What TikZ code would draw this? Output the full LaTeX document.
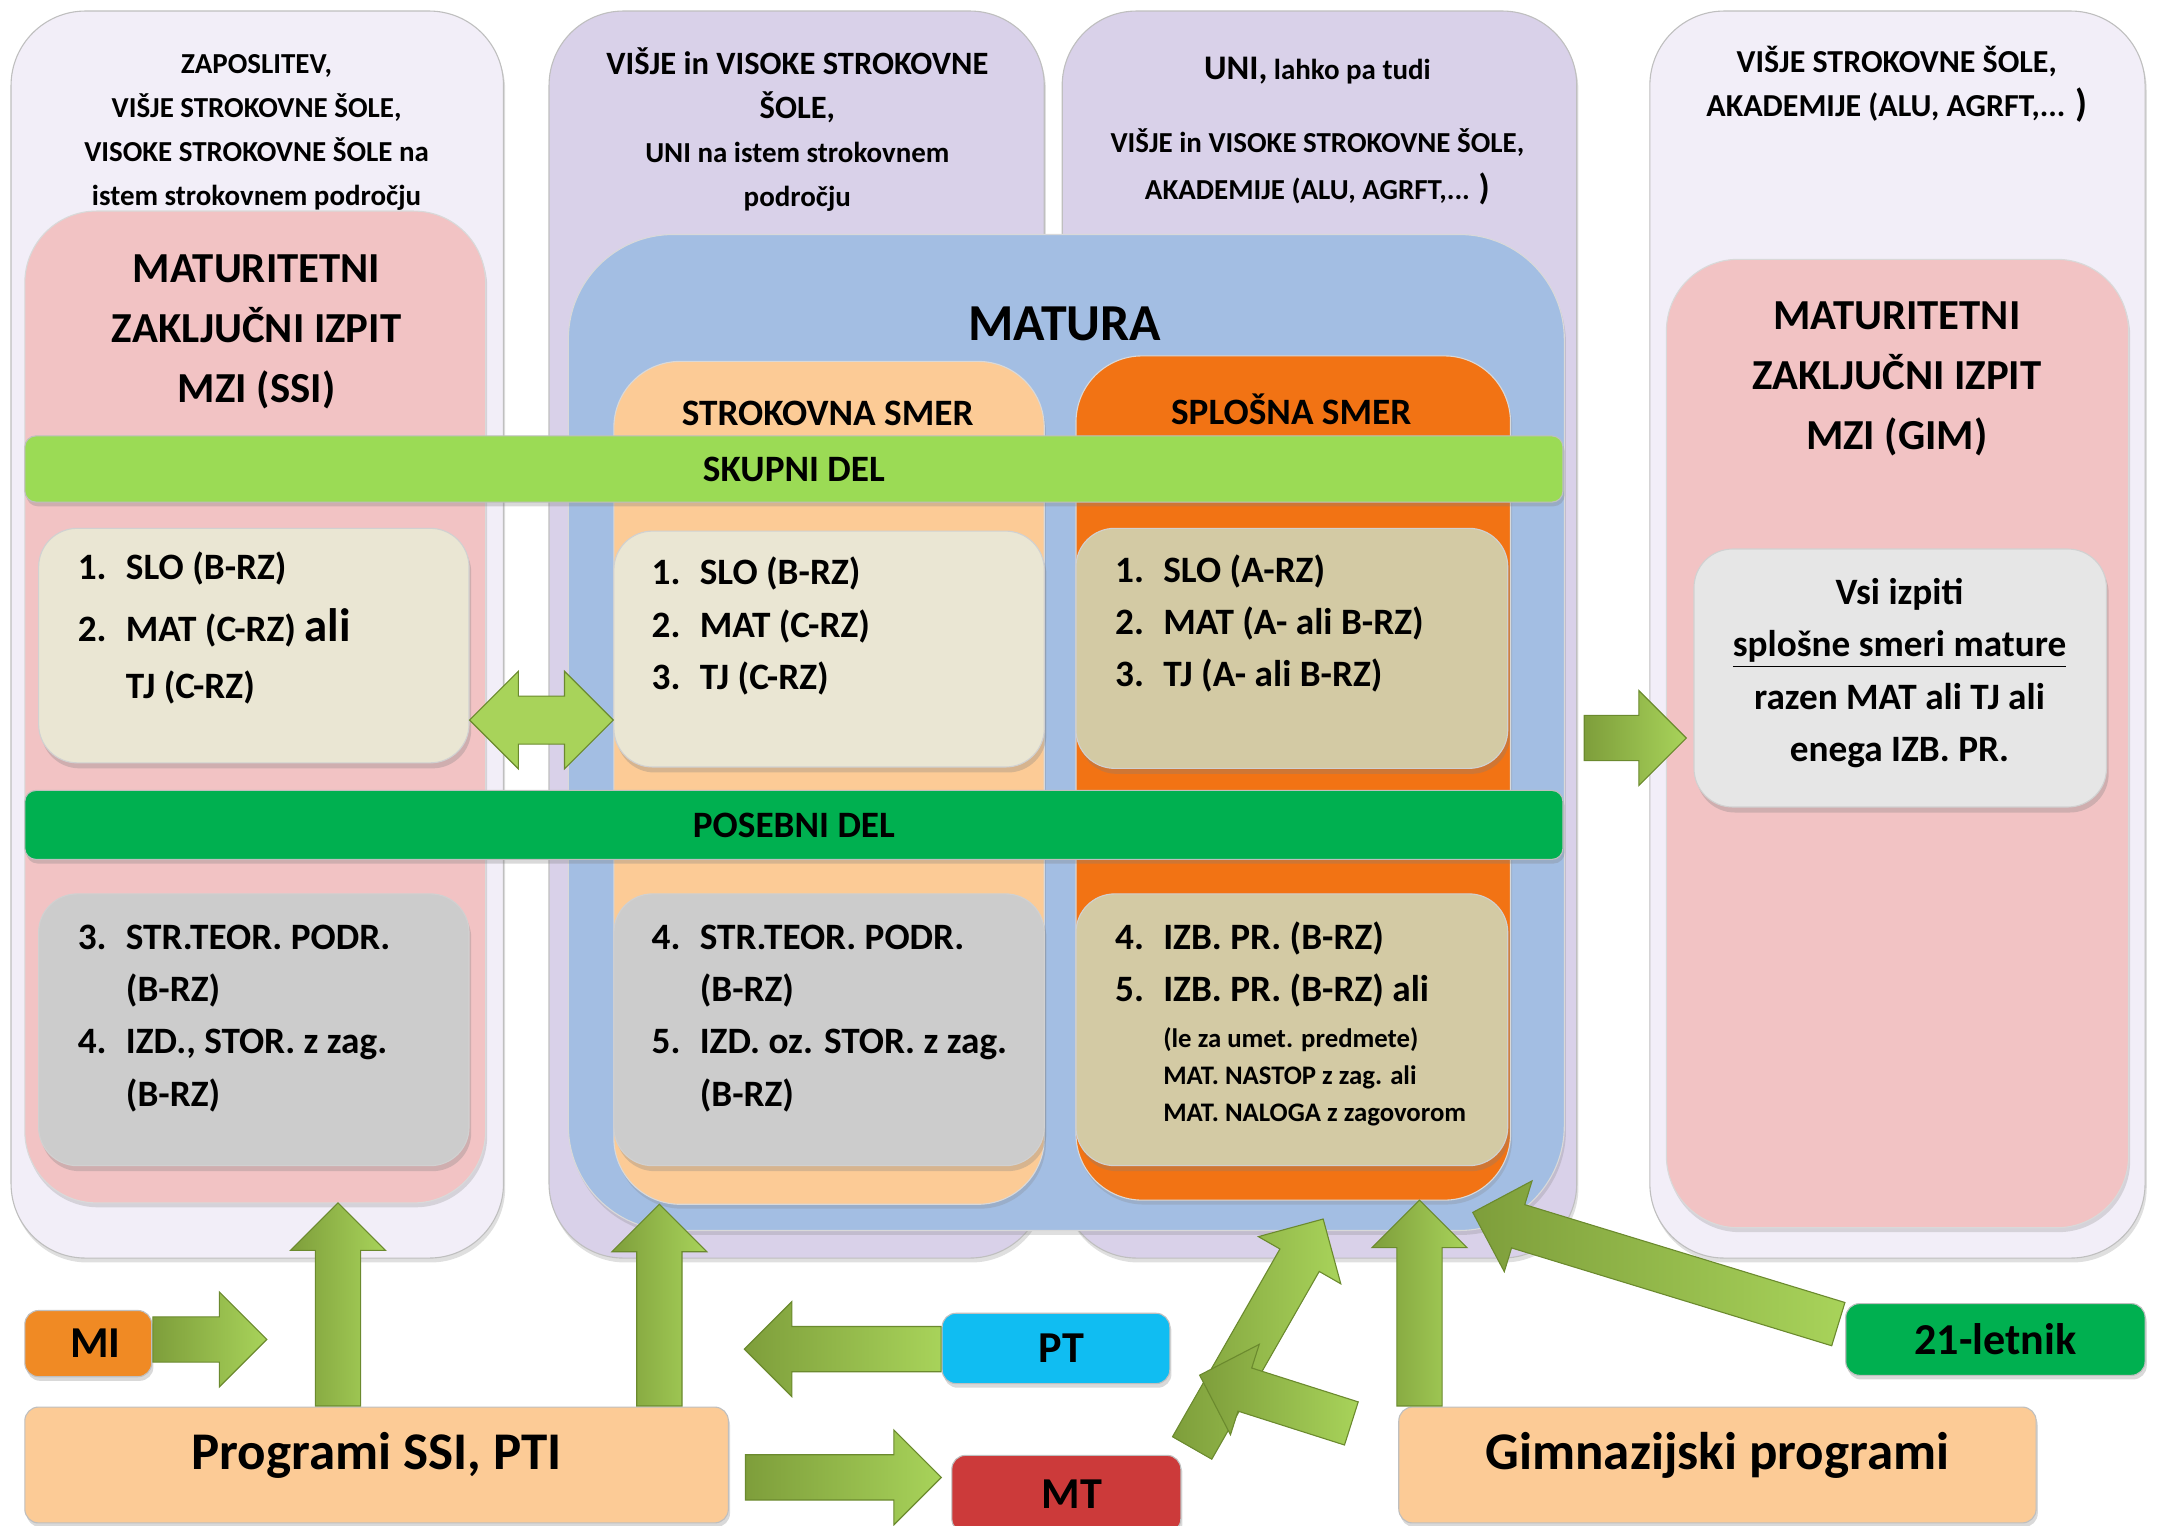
\documentclass[tikz,border=0pt]{standalone}
\usepackage{fontspec}
\setmainfont{Carlito}
\usepackage{xcolor}
\usepackage{tikz}
\usetikzlibrary{shapes}
\usetikzlibrary{arrows.meta}
\usetikzlibrary{shadows}
\usetikzlibrary{calc}
\definecolor{svetlastolp}{HTML}{F2EEF8}
\definecolor{temnastolp}{HTML}{D9D1E9}
\definecolor{roza}{HTML}{F2C3C4}
\definecolor{modra}{HTML}{A3BEE3}
\definecolor{breskev}{HTML}{FCCB96}
\definecolor{oranzna}{HTML}{F27314}
\definecolor{krem}{HTML}{EAE6D3}
\definecolor{pesek}{HTML}{D3CAA4}
\definecolor{siva}{HTML}{CCCCCC}
\definecolor{svsiva}{HTML}{E6E6E6}
\definecolor{limeta}{HTML}{9BDB55}
\definecolor{zelena}{HTML}{00B050}
\definecolor{puscicatemna}{HTML}{7E9E3B}
\definecolor{puscicasvetla}{HTML}{A8D35A}
\definecolor{puscicarob}{HTML}{6B8A2E}
\definecolor{cian}{HTML}{10BDF2}
\definecolor{rdeca}{HTML}{CC3A3A}
\definecolor{korenje}{HTML}{F08A24}
\tikzset{
	col node/.style={draw=black!25,rounded corners=27pt,drop shadow={opacity=0.25,shadow xshift=0.6pt,shadow yshift=-1.6pt}},
	big node/.style={draw=black!15,drop shadow={opacity=0.25,shadow xshift=0.6pt,shadow yshift=-1.6pt}},
	list node/.style={draw=black!18,rounded corners=14pt,drop shadow={opacity=0.3,shadow xshift=0.8pt,shadow yshift=-2pt}},
	bar node/.style={draw=black!25,rounded corners=4pt,minimum width=557.5pt,font=\fontsize{13.5}{16}\selectfont\bfseries,
		drop shadow={opacity=0.3,shadow xshift=0.6pt,shadow yshift=-1.5pt}},
	low node/.style={draw=black!25,rounded corners=5pt,font=\fontsize{16}{19}\selectfont\bfseries,
		drop shadow={opacity=0.3,shadow xshift=0.6pt,shadow yshift=-1.5pt}},
	prog node/.style={low node,fill=breskev,minimum height=42pt,text height=13pt,text depth=10pt,font=\fontsize{19.2}{23}\selectfont\bfseries},
	top text/.style={align=center,inner sep=0pt,font=\fontsize{10.5}{16}\selectfont\bfseries},
	title text/.style={align=center,inner sep=0pt,font=\fontsize{15.5}{21.75}\selectfont\bfseries},
	list text/.style={anchor=north west,inner sep=0pt,font=\fontsize{13.5}{19}\selectfont\bfseries}
}
\begin{document}
\begin{tikzpicture}[x=0.5pt,y=-0.5pt,
	fat/.style={single arrow,single arrow head extend=9pt,inner xsep=0pt,inner ysep=8pt,draw=puscicarob,line width=0.4pt,
		left color=puscicatemna,right color=puscicasvetla,pos=0,anchor=tail,sloped,allow upside down},
	fat both/.style={double arrow,double arrow head extend=9pt,inner xsep=0pt,inner ysep=8.5pt,draw=puscicarob,line width=0.4pt,
		left color=puscicasvetla,middle color=puscicatemna,right color=puscicasvetla,midway,sloped,allow upside down}]
	\useasboundingbox (0,0) rectangle (1568,1106);
	\node [col node,fill=svetlastolp,minimum width=178.5pt,minimum height=452pt] (1) at (186.5,460) {};
	\node [col node,fill=temnastolp,minimum width=179.5pt,minimum height=452pt] (2) at (577.5,460) {};
	\node [col node,fill=temnastolp,minimum width=186.5pt,minimum height=452pt] (3) at (956.5,460) {};
	\node [col node,fill=svetlastolp,minimum width=179.5pt,minimum height=452pt] (4) at (1375.5,460) {};
	\node [top text] (1a) at (186,96) {ZAPOSLITEV,\\VIŠJE STROKOVNE ŠOLE,\\VISOKE STROKOVNE ŠOLE na\\istem strokovnem področju};
	\node [top text] (2a) at (578,94) {{\fontsize{11.8}{16}\selectfont VIŠJE in VISOKE STROKOVNE}\\{\fontsize{11.8}{16}\selectfont ŠOLE,}\\UNI na istem strokovnem\\področju};
	\node [top text] (3a) at (955,95) {{\fontsize{12.5}{16}\selectfont UNI,} lahko pa tudi\\[10.5pt]VIŠJE in VISOKE STROKOVNE ŠOLE,\\[1pt]AKADEMIJE (ALU, AGRFT,... {\fontsize{13}{16}\selectfont)}};
	\node [top text,font=\fontsize{11.6}{16}\selectfont\bfseries] (4a) at (1375,61) {VIŠJE STROKOVNE ŠOLE,\\AKADEMIJE (ALU, AGRFT,... {\fontsize{14}{16}\selectfont)}};
	\node [big node,fill=roza,rounded corners=26pt,minimum width=167pt,minimum height=359.5pt] (5) at (185,512.5) {};
	\node [big node,fill=roza,rounded corners=26pt,minimum width=167.5pt,minimum height=351pt] (6) at (1375.5,539) {};
	\node [big node,fill=modra,rounded corners=38pt,minimum width=361pt,minimum height=361pt] (7) at (773,531) {};
	\node [big node,fill=breskev,rounded corners=24pt,minimum width=156pt,minimum height=305.5pt] (8) at (601,567.5) {};
	\node [big node,fill=oranzna,rounded corners=24pt,minimum width=157.5pt,minimum height=306pt] (9) at (937.5,564) {};
	\node [title text] (5a) at (186,240.5) {MATURITETNI\\ZAKLJUČNI IZPIT\\MZI (SSI)};
	\node [title text] (6a) at (1375,274.5) {MATURITETNI\\ZAKLJUČNI IZPIT\\MZI (GIM)};
	\node [inner sep=0pt,font=\fontsize{18.8}{22}\selectfont\bfseries] (7a) at (772,235) {MATURA};
	\node [inner sep=0pt,font=\fontsize{13.5}{16}\selectfont\bfseries] (8a) at (600,300) {STROKOVNA SMER};
	\node [inner sep=0pt,font=\fontsize{13.5}{16}\selectfont\bfseries] (9a) at (936,297) {SPLOŠNA SMER};
	\node [bar node,fill=limeta,minimum height=24pt] (10) at (575.5,340) {SKUPNI DEL};
	\node [bar node,fill=zelena,minimum height=25pt] (11) at (575.5,598) {POSEBNI DEL};
	\node [list node,fill=krem,minimum width=156pt,minimum height=85pt] (12) at (184,468) {};
	\node [list node,fill=krem,minimum width=156pt,minimum height=85.5pt] (13) at (601,470.5) {};
	\node [list node,fill=pesek,minimum width=156.5pt,minimum height=87pt] (14) at (936.5,470) {};
	\node [list node,fill=siva,minimum width=156pt,minimum height=98.5pt] (15) at (184,746.5) {};
	\node [list node,fill=siva,minimum width=156pt,minimum height=98.5pt] (16) at (601,746.5) {};
	\node [list node,fill=pesek,minimum width=156.5pt,minimum height=98.5pt] (17) at (936.5,746.5) {};
	\node [list node,fill=svsiva,minimum width=149.5pt,minimum height=93.5pt] (18) at (1377.5,491.5) {};
	\node [list text] (12a) at (56,393) {\begin{tabular}{@{}l@{\hspace{7pt}}l@{}}
		1. & SLO (B-RZ)\\[3.5pt]
		2. & MAT (C-RZ) {\fontsize{17}{19}\selectfont ali}\\[1.5pt]
		& TJ (C-RZ)
	\end{tabular}};
	\node [list text] (13a) at (472,397) {\begin{tabular}{@{}l@{\hspace{7pt}}l@{}}
		1. & SLO (B-RZ)\\
		2. & MAT (C-RZ)\\
		3. & TJ (C-RZ)
	\end{tabular}};
	\node [list text] (14a) at (808,395) {\begin{tabular}{@{}l@{\hspace{7pt}}l@{}}
		1. & SLO (A-RZ)\\
		2. & MAT (A- ali B-RZ)\\
		3. & TJ (A- ali B-RZ)
	\end{tabular}};
	\node [list text] (15a) at (56,661) {\begin{tabular}{@{}l@{\hspace{7pt}}l@{}}
		3. & STR.TEOR. PODR.\\
		& (B-RZ)\\
		4. & IZD., STOR. z zag.\\
		& (B-RZ)
	\end{tabular}};
	\node [list text] (16a) at (472,661) {\begin{tabular}{@{}l@{\hspace{7pt}}l@{}}
		4. & STR.TEOR. PODR.\\
		& (B-RZ)\\
		5. & IZD. oz. STOR. z zag.\\
		& (B-RZ)
	\end{tabular}};
	\node [list text] (17a) at (808,661) {\begin{tabular}{@{}l@{\hspace{7pt}}l@{}}
		4. & IZB. PR. (B-RZ)\\
		5. & IZB. PR. (B-RZ) ali\\[-2.5pt]
		& \fontsize{9.7}{13.5}\selectfont (le za umet. predmete)\\[-5.5pt]
		& \fontsize{9.7}{13.5}\selectfont MAT. NASTOP z zag. ali\\[-5.5pt]
		& \fontsize{9.7}{13.5}\selectfont MAT. NALOGA z zagovorom
	\end{tabular}};
	\node [align=center,inner sep=0pt,font=\fontsize{13.5}{19}\selectfont\bfseries] (18a) at (1377,488) {Vsi izpiti\\\underline{splošne smeri mature}\\razen MAT ali TJ ali\\enega IZB. PR.};
	\node [low node,fill=korenje,minimum width=46pt,minimum height=24pt] (19) at (64,974) {\hspace{5pt}MI};
	\node [prog node,minimum width=255pt] (20) at (273,1062) {Programi SSI, PTI};
	\node [low node,fill=cian,minimum width=82.5pt,minimum height=25.5pt] (21) at (765.5,977.5) {\hspace{4pt}PT};
	\node [low node,fill=rdeca,minimum width=83pt,minimum height=28pt] (22) at (773,1083) {\hspace{4pt}MT};
	\node [prog node,minimum width=231pt] (23) at (1245,1062) {Gimnazijski programi};
	\node [low node,fill=zelena,minimum width=108.5pt,minimum height=26pt] (24) at (1446.5,971) {21-letnik};
	\coordinate (c1) at (0,522);
	\path let \p1=(12.east |- c1),\p2=(13.west |- c1),\n1={veclen(\x2-\x1,\y2-\y1)} in (\p1) -- node [fat both,minimum height=\n1] {} (\p2);
	\coordinate (c2) at (1148,535);
	\coordinate (c3) at (1222,535);
	\path let \p1=(c2),\p2=(c3),\n1={veclen(\x2-\x1,\y2-\y1)} in (\p1) -- node [fat,minimum height=\n1] {} (\p2);
	\coordinate (c4) at (245,0);
	\path let \p1=(20.north -| c4),\p2=(5.south -| c4),\n1={veclen(\x2-\x1,\y2-\y1)} in (\p1) -- node [fat,minimum height=\n1] {} (\p2);
	\coordinate (c5) at (478,0);
	\path let \p1=(20.north -| c5),\p2=(8.south -| c5),\n1={veclen(\x2-\x1,\y2-\y1)} in (\p1) -- node [fat,minimum height=\n1] {} (\p2);
	\coordinate (c6) at (193,971);
	\path let \p1=(19.east |- c6),\p2=(c6),\n1={veclen(\x2-\x1,\y2-\y1)} in (\p1) -- node [fat,minimum height=\n1] {} (\p2);
	\coordinate (c7) at (540,978);
	\path let \p1=(21.west |- c7),\p2=(c7),\n1={veclen(\x2-\x1,\y2-\y1)} in (\p1) -- node [fat,minimum height=\n1] {} (\p2);
	\coordinate (c8) at (540,1071);
	\coordinate (c9) at (682,1071);
	\path let \p1=(c8),\p2=(c9),\n1={veclen(\x2-\x1,\y2-\y1)} in (\p1) -- node [fat,minimum height=\n1] {} (\p2);
	\coordinate (c10) at (864,1050);
	\coordinate (c11) at (959,884);
	\path let \p1=(c10),\p2=(c11),\n1={veclen(\x2-\x1,\y2-\y1)} in (\p1) -- node [fat,minimum height=\n1] {} (\p2);
	\coordinate (c12) at (980,1032);
	\coordinate (c13) at (870,997);
	\path let \p1=(c12),\p2=(c13),\n1={veclen(\x2-\x1,\y2-\y1)} in (\p1) -- node [fat,minimum height=\n1] {} (\p2);
	\coordinate (c14) at (1029,0);
	\path let \p1=(23.north -| c14),\p2=(9.south -| c14),\n1={veclen(\x2-\x1,\y2-\y1)} in (\p1) -- node [fat,minimum height=\n1] {} (\p2);
	\coordinate (c15) at (1333,960);
	\coordinate (c16) at (1068,879);
	\path let \p1=(c15),\p2=(c16),\n1={veclen(\x2-\x1,\y2-\y1)} in (\p1) -- node [fat,minimum height=\n1] {} (\p2);
\end{tikzpicture}
\end{document}
